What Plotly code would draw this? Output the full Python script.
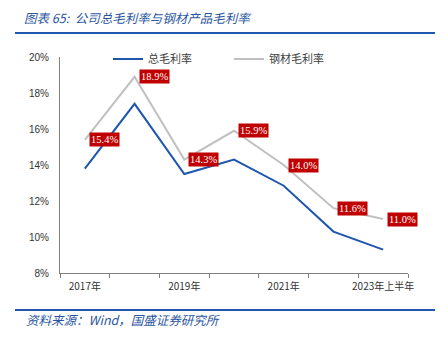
import plotly.graph_objects as go

categories = ["2017年", "2018年", "2019年", "2020年", "2021年", "2022年", "2023年上半年"]
total_margin = [13.8, 17.4, 13.5, 14.3, 12.85, 10.3, 9.3]
steel_margin = [15.4, 18.9, 14.3, 15.9, 14.0, 11.6, 11.0]
shown_ticks = ["2017年", "2019年", "2021年", "2023年上半年"]
y_ticks = [8, 10, 12, 14, 16, 18, 20]

xs = list(range(len(categories)))
BLUE = "#1F57AE"
GRAY = "#C0C0C0"
TITLE_BLUE = "#2A56A0"
FONT = "Noto Sans CJK SC, Liberation Sans, Arial"

W, H = 448, 345
L, R, T, B = 60, 40, 57, 72

def px(xp):
    return (xp - L) / (W - L - R)

def py(yp):
    return 1 - (yp - T) / (H - T - B)

fig = go.Figure()
fig.add_trace(go.Scatter(x=xs, y=total_margin, mode="lines", name="总毛利率",
                         line=dict(color=BLUE, width=2)))
fig.add_trace(go.Scatter(x=xs, y=steel_margin, mode="lines", name="钢材毛利率",
                         line=dict(color=GRAY, width=2)))

for x, v in zip(xs, steel_margin):
    fig.add_annotation(x=x, y=v, xref="x", yref="y", text=f"{v:.1f}%",
                       showarrow=False, xanchor="left", yanchor="middle", xshift=4,
                       bgcolor="#C00000", borderpad=1,
                       font=dict(color="white", size=10.5, family="Liberation Serif, Times New Roman"))

tick_idx = [categories.index(t) for t in shown_ticks]
fig.update_xaxes(range=[-0.5, len(categories) - 0.5], tickvals=tick_idx, ticktext=shown_ticks,
                 ticks="", showline=True, linecolor="#808080", linewidth=1,
                 showgrid=False, zeroline=False, ticklabelstandoff=4,
                 tickfont=dict(size=10, color="#333333", family=FONT),
                 minor=dict(tickvals=[i - 0.5 for i in range(len(categories) + 1)],
                            ticks="outside", ticklen=4, tickcolor="#808080", showgrid=False))
fig.update_yaxes(range=[8, 20], tickvals=y_ticks, ticktext=[f"{v}%" for v in y_ticks],
                 showline=True, linecolor="#808080", linewidth=1, showgrid=False,
                 zeroline=False, ticks="", ticklabelstandoff=8,
                 tickfont=dict(size=10, color="#333333", family="Liberation Sans, Arial"))

fig.add_annotation(x=px(22), y=py(18), xref="paper", yref="paper",
                   text="<i>图表 65:  公司总毛利率与钢材产品毛利率</i>",
                   showarrow=False, xanchor="left", yanchor="middle",
                   font=dict(size=12.5, color=TITLE_BLUE, family=FONT))
fig.add_annotation(x=px(24), y=py(319), xref="paper", yref="paper",
                   text="<i>资料来源：Wind，国盛证券研究所</i>",
                   showarrow=False, xanchor="left", yanchor="middle",
                   font=dict(size=12.5, color=TITLE_BLUE, family=FONT))
fig.add_shape(type="line", xref="paper", yref="paper", x0=px(15), x1=px(435), y0=py(33), y1=py(33),
              line=dict(color="#1F57AE", width=2))
fig.add_shape(type="line", xref="paper", yref="paper", x0=px(15), x1=px(435), y0=py(310), y1=py(310),
              line=dict(color="#1F57AE", width=2))

fig.update_layout(
    width=W, height=H, margin=dict(l=L, r=R, t=T, b=B),
    paper_bgcolor="white", plot_bgcolor="white",
    showlegend=True,
    legend=dict(orientation="h", x=px(108), y=py(59), xanchor="left", yanchor="middle",
                bgcolor="rgba(0,0,0,0)", font=dict(size=11, color="#404040", family=FONT),
                entrywidth=76, entrywidthmode="pixels", itemwidth=30),
)

fig.write_html("out.html")
